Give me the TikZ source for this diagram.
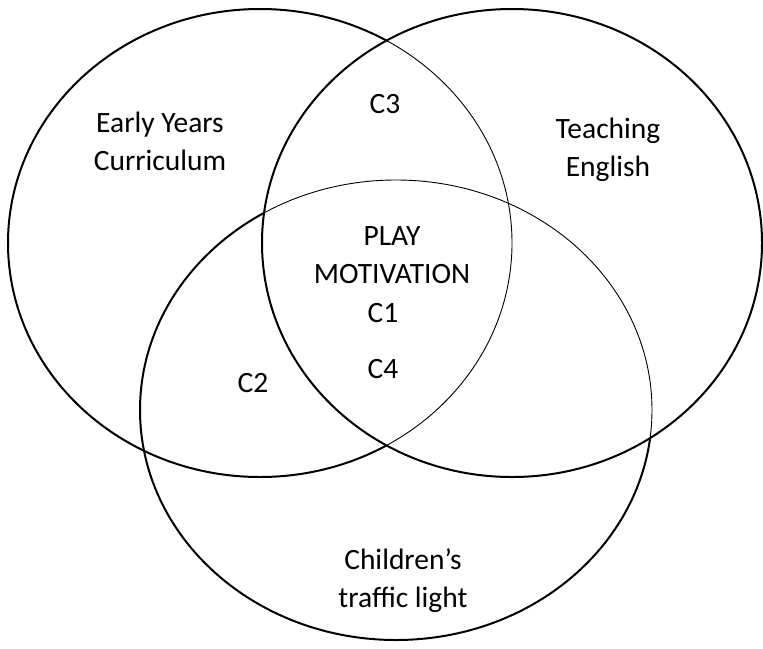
\documentclass[tikz,border=0pt]{standalone}
\usepackage{fontspec}
\setmainfont{Carlito}
\usepackage{tikz}

\tikzset{
  ring/.style={line width=2pt},
  fine/.style={line width=0.9pt},
  lbl/.style={font=\fontsize{29.5}{38.5}\selectfont, align=center, inner sep=0pt, anchor=base},
}

\begin{document}
\begin{tikzpicture}[x=1pt,y=-1pt]
  \useasboundingbox (0,0) rectangle (763,648);
  \coordinate (ey) at (260,243);
  \coordinate (te) at (512,243);
  \coordinate (ct) at (396,410);
  \draw[ring] (ey) ellipse [x radius=252, y radius=234];
  \draw[ring] (ct) ellipse [x radius=256, y radius=230];
  \fill[white] (te) ellipse [x radius=250, y radius=234];
  \begin{scope}
    \clip (te) ellipse [x radius=250, y radius=234];
    \draw[fine] (ey) ellipse [x radius=252, y radius=234];
    \draw[fine] (ct) ellipse [x radius=256, y radius=230];
  \end{scope}
  \draw[ring] (te) ellipse [x radius=250, y radius=234];
  \node[lbl] (eyl) at (160,170.5) {Early Years\\Curriculum};
  \node[lbl] (tel) at (608,176.5) {Teaching\\English};
  \node[lbl] (c3) at (385,113) {C3};
  \node[lbl] (pm) at (392,283.5) {PLAY\\MOTIVATION};
  \node[lbl] (c1) at (383,322) {C1};
  \node[lbl] (c4) at (383,378) {C4};
  \node[lbl] (c2) at (253,392) {C2};
  \node[lbl] (ctl) at (403,607.5) {Children’s\\traffic light};
\end{tikzpicture}
\end{document}
